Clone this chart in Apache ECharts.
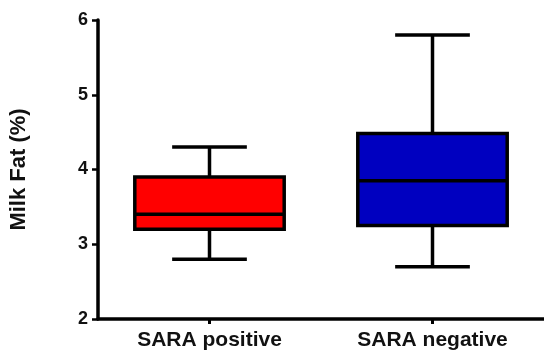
<!DOCTYPE html>
<html>
<head>
<meta charset="utf-8">
<script src="https://cdn.jsdelivr.net/npm/echarts@6/dist/echarts.min.js"></script>
<style>html,body{margin:0;padding:0;background:#fff}#c{width:544px;height:352px}</style>
</head>
<body>
<div id="c"></div>
<script>
const categories = ['SARA positive', 'SARA negative'];
// [min, Q1, median, Q3, max]
const positiveStats = [2.8, 3.2, 3.4, 3.9, 4.3];
const negativeStats = [2.7, 3.25, 3.85, 4.48, 5.8];
const boxColors = ['#ff0000', '#0000c0'];
const yTicks = [2, 3, 4, 5, 6];

const boxData = [positiveStats, negativeStats].map((s, i) => [i].concat(s));
const FONT = 'Liberation Sans, Arial, sans-serif';

const chart = echarts.init(document.getElementById('c'));
chart.setOption({
  animation: false,
  backgroundColor: '#fff',
  grid: { left: 97, right: 0, top: 20, bottom: 33, containLabel: false },
  xAxis: {
    type: 'category',
    data: categories,
    axisLine: { lineStyle: { color: '#000', width: 3.5 } },
    axisTick: { show: true, alignWithLabel: true, length: 5, lineStyle: { color: '#000', width: 3 } },
    axisLabel: { color: '#111', fontFamily: FONT, fontWeight: 'bold', fontSize: 21, margin: 11 }
  },
  yAxis: {
    type: 'value',
    min: yTicks[0],
    max: yTicks[yTicks.length - 1],
    interval: 1,
    name: 'Milk Fat (%)',
    nameLocation: 'middle',
    nameGap: 68,
    nameRotate: 90,
    nameTextStyle: { color: '#111', fontFamily: FONT, fontWeight: 'bold', fontSize: 22 },
    splitLine: { show: false },
    axisLine: { show: true, lineStyle: { color: '#000', width: 3.5 } },
    axisTick: { show: true, length: 6, lineStyle: { color: '#000', width: 2.5 } },
    axisLabel: { color: '#111', fontFamily: FONT, fontWeight: 'bold', fontSize: 18, margin: 10 }
  },
  series: [{
    type: 'custom',
    data: boxData,
    encode: { x: 0, y: [1, 2, 3, 4, 5] },
    renderItem: function (params, api) {
      const idx = api.value(0);
      const band = api.size([1, 0])[0];
      const half = band * 0.335;
      const capHalf = half * 0.5;
      const pMin = api.coord([idx, api.value(1)]);
      const pQ1 = api.coord([idx, api.value(2)]);
      const pMed = api.coord([idx, api.value(3)]);
      const pQ3 = api.coord([idx, api.value(4)]);
      const pMax = api.coord([idx, api.value(5)]);
      const cx = pMin[0];
      const ls = { stroke: '#000', lineWidth: 3.5 };
      return {
        type: 'group',
        children: [
          { type: 'line', shape: { x1: cx, y1: pMax[1], x2: cx, y2: pQ3[1] }, style: ls },
          { type: 'line', shape: { x1: cx, y1: pQ1[1], x2: cx, y2: pMin[1] }, style: ls },
          { type: 'line', shape: { x1: cx - capHalf, y1: pMax[1], x2: cx + capHalf, y2: pMax[1] }, style: ls },
          { type: 'line', shape: { x1: cx - capHalf, y1: pMin[1], x2: cx + capHalf, y2: pMin[1] }, style: ls },
          { type: 'rect', shape: { x: cx - half, y: pQ3[1], width: half * 2, height: pQ1[1] - pQ3[1] },
            style: { fill: boxColors[idx], stroke: '#000', lineWidth: 3.5 } },
          { type: 'line', shape: { x1: cx - half, y1: pMed[1], x2: cx + half, y2: pMed[1] }, style: ls }
        ]
      };
    }
  }]
});
</script>
</body>
</html>
